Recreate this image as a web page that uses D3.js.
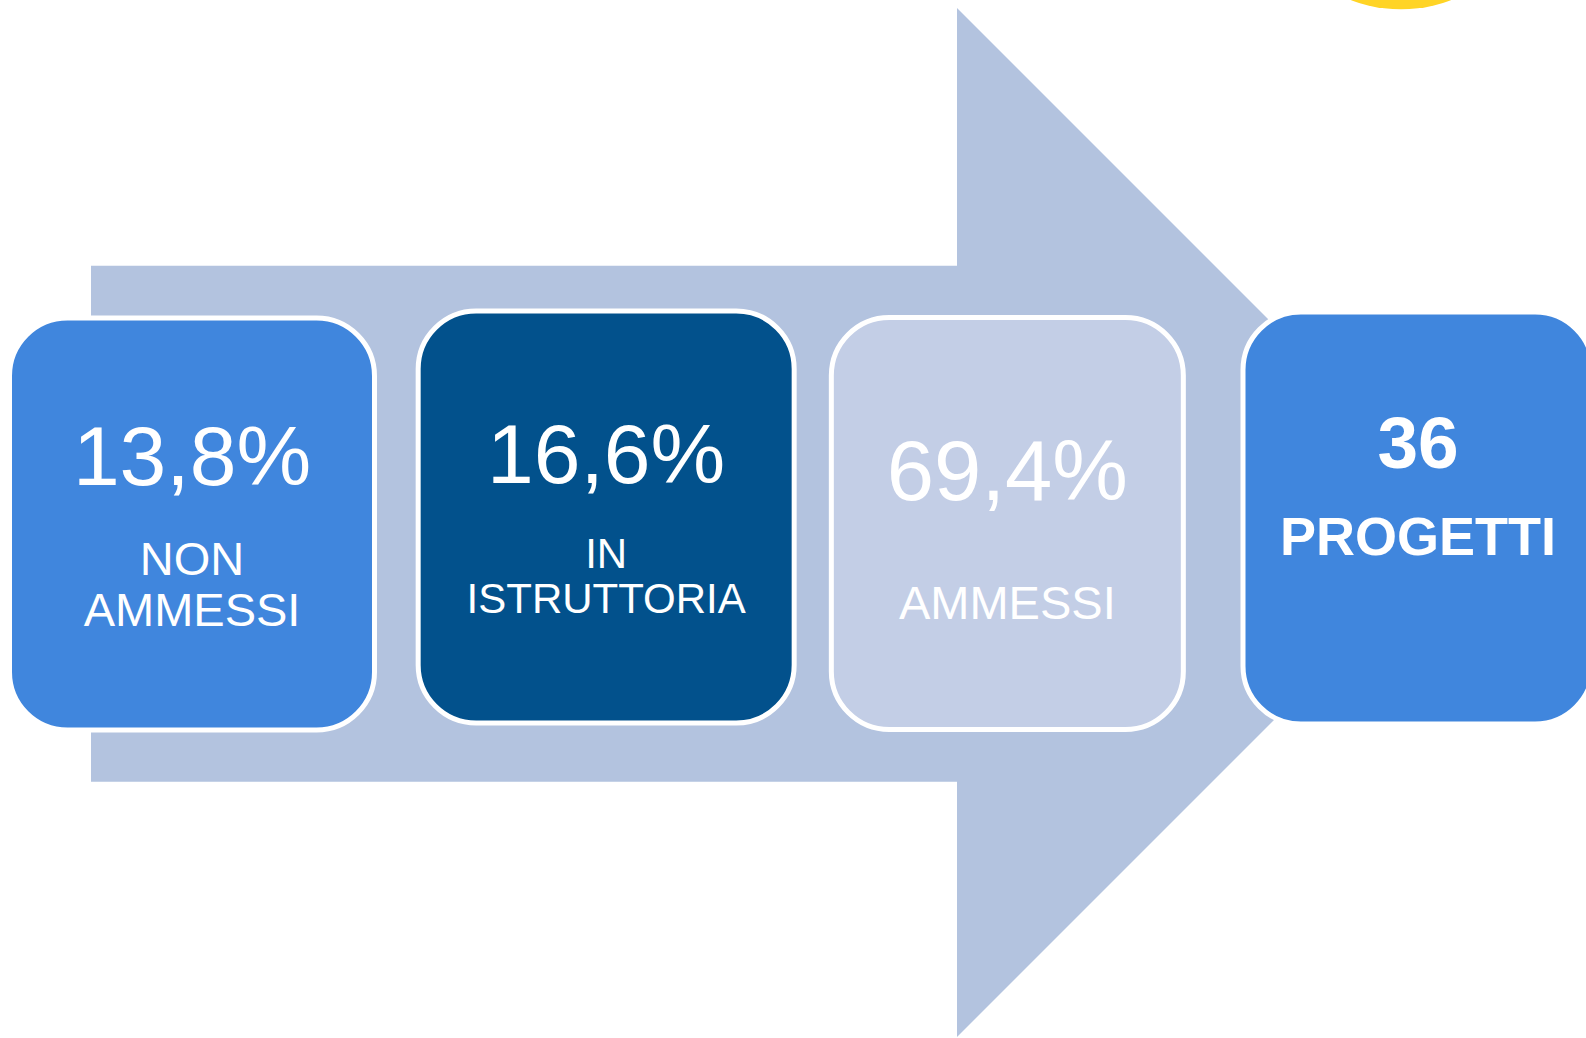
<!DOCTYPE html>
<html>
<head>
<meta charset="utf-8">
<script src="https://cdn.jsdelivr.net/npm/d3@7"></script>
<style>
  html, body { margin: 0; padding: 0; background: #ffffff; overflow: hidden; }
  svg { display: block; }
</style>
</head>
<body>
<div id="chart"></div>
<script>
// dati del grafico
var categories = ["NON AMMESSI", "IN ISTRUTTORIA", "AMMESSI", "TOTALE"];
var values = ["13,8%", "16,6%", "69,4%", "36"];
var labelLines = [["NON", "AMMESSI"], ["IN", "ISTRUTTORIA"], ["AMMESSI"], ["PROGETTI"]];

// stile e disposizione (non sono dati)
var fills = ["#4086dd", "#02518c", "#c3cee6", "#4086dd"];
var boxW = [365, 376, 352, 350];
var boxDx = [0, 5.5, -2, 0];
var boxDy = [0, -7, -0.5, -6];
var valueSize = [84, 84, 85, 73];
var valueDy = [167, 171.5, 182.5, 156];
var labelSize = [47, 42, 47, 54];
var labelDy = [257, 257, 301, 243];
var lineGap = [51, 44.5, 0, 0];
var bold = [false, false, false, true];

var width = 1586, height = 1038;

var svg = d3.select("#chart").append("svg")
  .attr("width", width)
  .attr("height", height);

// macchia gialla in alto a destra
svg.append("ellipse")
  .attr("cx", 1401).attr("cy", -40)
  .attr("rx", 86).attr("ry", 49.3)
  .style("fill", "#ffd426");

// freccia di sfondo
var arrow = d3.path();
var shaftX = 91, shaftTop = 265.7, shaftBot = 781.7;
var headX = 957, headTop = 8, headBot = 1037;
var tipX = headX + (headBot - headTop) / 2, midY = (headTop + headBot) / 2;
arrow.moveTo(shaftX, shaftTop);
arrow.lineTo(headX, shaftTop);
arrow.lineTo(headX, headTop);
arrow.lineTo(tipX, midY);
arrow.lineTo(headX, headBot);
arrow.lineTo(headX, shaftBot);
arrow.lineTo(shaftX, shaftBot);
arrow.closePath();
svg.append("path")
  .attr("d", arrow.toString())
  .style("fill", "#b3c3df");

// posizione orizzontale dei riquadri
var x = d3.scalePoint()
  .domain(categories)
  .range([192, 1418]);

var boxH = 412, boxTop = 318;

var g = svg.selectAll("g.box")
  .data(categories)
  .enter()
  .append("g")
  .attr("class", "box")
  .attr("transform", function(d, i) {
    return "translate(" + (x(d) + boxDx[i]) + "," + (boxTop + boxDy[i]) + ")";
  });

g.append("rect")
  .attr("x", function(d, i) { return -boxW[i] / 2; })
  .attr("y", 0)
  .attr("width", function(d, i) { return boxW[i]; })
  .attr("height", boxH)
  .attr("rx", 58).attr("ry", 58)
  .style("fill", function(d, i) { return fills[i]; })
  .style("stroke", "#ffffff")
  .style("stroke-width", 5);

g.append("text")
  .attr("x", 0)
  .attr("y", function(d, i) { return valueDy[i]; })
  .attr("text-anchor", "middle")
  .style("font-family", "'Liberation Sans', Arial, Helvetica, sans-serif")
  .style("font-size", function(d, i) { return valueSize[i] + "px"; })
  .style("font-weight", function(d, i) { return bold[i] ? "bold" : "normal"; })
  .style("fill", "#ffffff")
  .text(function(d, i) { return values[i]; });

g.each(function(d, i) {
  var t = d3.select(this).append("text")
    .attr("text-anchor", "middle")
    .style("font-family", "'Liberation Sans', Arial, Helvetica, sans-serif")
    .style("font-size", labelSize[i] + "px")
    .style("font-weight", bold[i] ? "bold" : "normal")
    .style("fill", "#ffffff");
  labelLines[i].forEach(function(line, k) {
    t.append("tspan")
      .attr("x", 0)
      .attr("y", labelDy[i] + k * lineGap[i])
      .text(line);
  });
});
</script>
</body>
</html>
